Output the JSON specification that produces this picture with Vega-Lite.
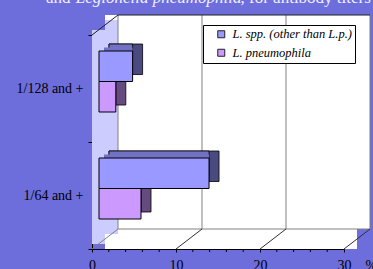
{
  "$schema": "https://vega.github.io/schema/vega-lite/v6.json",
  "width": 278,
  "height": 234,
  "autosize": "none",
  "padding": {"left": 92, "top": 15, "right": 3, "bottom": 20},
  "background": "#6d6ddc",
  "config": {
    "view": {"stroke": null},
    "font": "Liberation Serif",
    "axis": {"grid": false, "domainColor": "black", "tickColor": "black", "labelFont": "Liberation Serif", "labelFontSize": 14, "labelColor": "black", "zindex": 1, "labelOverlap": false, "labelFlush": false}
  },
  "title": {
    "text": "and\u00a0\u00a0\u00a0\u00a0\u00a0\u00a0\u00a0\u00a0\u00a0\u00a0\u00a0\u00a0\u00a0\u00a0\u00a0\u00a0\u00a0\u00a0\u00a0\u00a0\u00a0\u00a0\u00a0\u00a0\u00a0\u00a0\u00a0\u00a0\u00a0\u00a0\u00a0\u00a0\u00a0\u00a0\u00a0\u00a0\u00a0\u00a0\u00a0\u00a0, for antibody titers",
    "subtitle": "\u200b\u00a0\u00a0\u00a0\u00a0\u00a0\u00a0\u00a0Legionella pneumophila",
    "anchor": "start",
    "frame": "group",
    "dx": -46,
    "offset": 1,
    "font": "Liberation Serif",
    "fontSize": 17,
    "fontWeight": "normal",
    "color": "#f0f0ff",
    "subtitleFont": "Liberation Serif",
    "subtitleFontSize": 17,
    "subtitleFontStyle": "italic",
    "subtitleColor": "#f0f0ff",
    "subtitlePadding": -17
  },
  "data": {
    "values": [
      {"titer": "1/128 and +", "series": "L. spp. (other than L.p.)", "pct": 4},
      {"titer": "1/128 and +", "series": "L. pneumophila", "pct": 2},
      {"titer": "1/64 and +", "series": "L. spp. (other than L.p.)", "pct": 13.1},
      {"titer": "1/64 and +", "series": "L. pneumophila", "pct": 5}
    ]
  },
  "layer": [
    {
      "data": {"values": [{}]},
      "mark": {"type": "rect", "fill": "white", "xOffset": 13, "x2Offset": 13},
      "encoding": {
        "x": {"datum": 0, "type": "quantitative", "title": "%"},
        "x2": {"datum": 30}
      }
    },
    {
      "mark": {"type": "rect", "fill": "white", "xOffset": 26, "x2Offset": 26, "yOffset": -20, "y2Offset": -20},
      "encoding": {
        "x": {"datum": 0, "type": "quantitative", "title": "%"},
        "x2": {"datum": 30},
        "y": {"field": "titer", "type": "nominal", "title": null}
      }
    },
    {
      "data": {"values": [{}]},
      "mark": {"type": "rule", "stroke": "#ccccff", "strokeWidth": 13, "strokeCap": "butt", "xOffset": 19.5, "yOffset": -15, "y2Offset": -15},
      "encoding": {
        "x": {"datum": 0, "type": "quantitative", "title": "%"},
        "y": {"datum": "1/128 and +", "type": "nominal", "bandPosition": 0, "title": null},
        "y2": {"datum": "1/64 and +", "bandPosition": 1}
      }
    },
    {
      "data": {"values": [{}]},
      "mark": {"type": "rule", "stroke": "#ccccff", "strokeWidth": 13, "strokeCap": "butt", "xOffset": 6.5, "yOffset": -5, "y2Offset": -5},
      "encoding": {
        "x": {"datum": 0, "type": "quantitative", "title": "%"},
        "y": {"datum": "1/128 and +", "type": "nominal", "bandPosition": 0, "title": null},
        "y2": {"datum": "1/64 and +", "bandPosition": 1}
      }
    },
    {
      "data": {"values": [{"v": 0}, {"v": 10}, {"v": 20}, {"v": 30}]},
      "mark": {"type": "rule", "stroke": "#808080", "strokeWidth": 1, "xOffset": 26, "yOffset": -20, "y2Offset": -20},
      "encoding": {
        "x": {"field": "v", "type": "quantitative", "title": "%"},
        "y": {"datum": "1/128 and +", "type": "nominal", "bandPosition": 0, "title": null},
        "y2": {"datum": "1/64 and +", "bandPosition": 1}
      }
    },
    {
      "data": {"values": [{}]},
      "mark": {"type": "rule", "stroke": "#202020", "strokeWidth": 1, "xOffset": 26, "x2Offset": 26, "yOffset": -20},
      "encoding": {
        "x": {"datum": 0, "type": "quantitative", "title": "%"},
        "x2": {"datum": 30},
        "y": {"datum": "1/128 and +", "type": "nominal", "bandPosition": 0, "title": null}
      }
    },
    {
      "data": {"values": [{}]},
      "mark": {"type": "rule", "stroke": "#808080", "strokeWidth": 1, "xOffset": 26, "x2Offset": 26, "yOffset": -20},
      "encoding": {
        "x": {"datum": 0, "type": "quantitative", "title": "%"},
        "x2": {"datum": 30},
        "y": {"datum": "1/64 and +", "type": "nominal", "bandPosition": 1, "title": null}
      }
    },
    {
      "data": {"values": [{"v": 0}, {"v": 10}, {"v": 20}, {"v": 30}]},
      "mark": {"type": "rule", "strokeWidth": 1, "x2Offset": 26, "y2Offset": -20},
      "encoding": {
        "x": {"field": "v", "type": "quantitative", "title": "%"},
        "x2": {"field": "v"},
        "y": {"datum": "1/64 and +", "type": "nominal", "bandPosition": 1, "title": null},
        "y2": {"datum": "1/64 and +", "bandPosition": 1},
        "stroke": {"condition": {"test": "datum.v === 0", "value": "#808080"}, "value": "#303030"}
      }
    },
    {
      "data": {"values": [{}]},
      "mark": {"type": "rule", "stroke": "#202020", "strokeWidth": 1, "x2Offset": 26, "y2Offset": -20},
      "encoding": {
        "x": {"datum": 0, "type": "quantitative", "title": "%"},
        "x2": {"datum": 0},
        "y": {"datum": "1/128 and +", "type": "nominal", "bandPosition": 0, "title": null},
        "y2": {"datum": "1/128 and +", "bandPosition": 0}
      }
    },
    {
      "data": {"values": [{"v": 2}, {"v": 4}, {"v": 6}, {"v": 8}, {"v": 12}, {"v": 14}, {"v": 16}, {"v": 18}, {"v": 22}, {"v": 24}, {"v": 26}, {"v": 28}]},
      "mark": {"type": "rule", "stroke": "black", "strokeWidth": 1, "y2Offset": 3},
      "encoding": {
        "x": {"field": "v", "type": "quantitative", "title": "%"},
        "y": {"datum": "1/64 and +", "type": "nominal", "bandPosition": 1, "title": null},
        "y2": {"datum": "1/64 and +", "bandPosition": 1}
      }
    },
    {
      "mark": {"type": "bar", "xOffset": 17, "x2Offset": 17, "stroke": "black", "strokeWidth": 0.8},
      "encoding": {
        "y": {"field": "titer", "type": "nominal", "title": null},
        "x": {"field": "pct", "type": "quantitative", "stack": null, "title": "%"},
        "x2": {"datum": 0},
        "yOffset": {"field": "series", "type": "nominal", "scale": {"domain": ["L. spp. (other than L.p.)", "L. pneumophila"], "range": [9, 70], "paddingInner": 0, "paddingOuter": 0}},
        "fill": {"field": "series", "type": "nominal", "scale": {"domain": ["L. spp. (other than L.p.)", "L. pneumophila"], "range": ["#4a4a80", "#654b80"]}, "legend": null}
      }
    },
    {
      "mark": {"type": "bar", "xOffset": 7, "x2Offset": 17, "stroke": "black", "strokeWidth": 0.8},
      "encoding": {
        "y": {"field": "titer", "type": "nominal", "title": null},
        "x": {"field": "pct", "type": "quantitative", "stack": null, "title": "%"},
        "x2": {"datum": 0},
        "yOffset": {"field": "series", "type": "nominal", "scale": {"domain": ["L. spp. (other than L.p.)", "L. pneumophila"], "range": [9, 70], "paddingInner": 0, "paddingOuter": 0}},
        "fill": {"field": "series", "type": "nominal", "scale": {"domain": ["L. spp. (other than L.p.)", "L. pneumophila"], "range": ["#7272c4", "#9a72c4"]}, "legend": null}
      }
    },
    {
      "mark": {"type": "bar", "xOffset": 7, "x2Offset": 12},
      "encoding": {
        "y": {"field": "titer", "type": "nominal", "title": null},
        "x": {"field": "pct", "type": "quantitative", "stack": null, "title": "%"},
        "x2": {"datum": 0},
        "yOffset": {"field": "series", "type": "nominal", "scale": {"domain": ["L. spp. (other than L.p.)", "L. pneumophila"], "range": [12.5, 73.5], "paddingInner": 0, "paddingOuter": 0}},
        "fill": {"field": "series", "type": "nominal", "scale": {"domain": ["L. spp. (other than L.p.)", "L. pneumophila"], "range": ["#7272c4", "#9a72c4"]}, "legend": null}
      }
    },
    {
      "mark": {"type": "bar", "xOffset": 7, "x2Offset": 7, "stroke": "black", "strokeWidth": 1},
      "encoding": {
        "y": {
          "field": "titer", "type": "nominal",
          "scale": {"domain": ["1/128 and +", "1/64 and +"], "range": [20, 234], "paddingInner": 0, "paddingOuter": 0},
          "axis": {"title": null, "tickBand": "extent", "tickSize": 4, "labelPadding": 5}
        },
        "x": {
          "field": "pct", "type": "quantitative", "stack": null,
          "scale": {"domain": [0, 30], "range": [0, 252], "nice": false},
          "axis": {"title": "%", "values": [0, 10, 20, 30], "tickSize": 3, "labelPadding": 6, "titleX": 273, "titleY": 9, "titleAlign": "left", "titleBaseline": "top", "titleFont": "Liberation Serif", "titleFontSize": 14, "titleFontWeight": "normal", "titleColor": "black"}
        },
        "x2": {"datum": 0},
        "yOffset": {"field": "series", "type": "nominal", "scale": {"domain": ["L. spp. (other than L.p.)", "L. pneumophila"], "range": [16, 77], "paddingInner": 0, "paddingOuter": 0}},
        "color": {
          "field": "series", "type": "nominal",
          "scale": {"domain": ["L. spp. (other than L.p.)", "L. pneumophila"], "range": ["#9999ff", "#cc99ff"]},
          "legend": {"orient": "none", "legendX": 111, "legendY": 10, "title": null, "fillColor": "white", "strokeColor": "black", "padding": 3, "symbolType": "square", "symbolSize": 49, "symbolStrokeColor": "#222222", "symbolStrokeWidth": 1, "symbolOffset": 9, "labelOffset": 5, "labelFont": "Liberation Serif", "labelFontSize": 12.5, "labelFontStyle": "italic", "labelColor": "black", "labelLimit": 300, "rowPadding": 5.5}
        }
      }
    }
  ],
  "resolve": {"scale": {"yOffset": "independent", "fill": "independent"}}
}
